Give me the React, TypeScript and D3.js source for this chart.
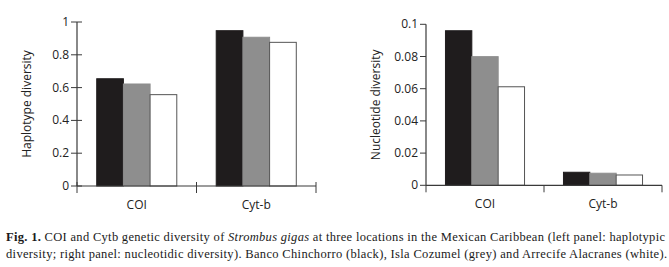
import * as d3 from 'd3'

const genes = ['COI', 'Cyt-b']
const sites = ['Banco Chinchorro', 'Isla Cozumel', 'Arrecife Alacranes']
const siteFill = ['#1f1c1d', '#8e8e8e', '#ffffff']

// haplotype diversity, one row per gene, one value per site
const haplotype = [
  [0.654, 0.622, 0.557],
  [0.947, 0.907, 0.876],
]
// nucleotide diversity
const nucleotide = [
  [0.096, 0.0799, 0.0612],
  [0.0081, 0.0075, 0.0064],
]

const hapTicks = [0, 0.2, 0.4, 0.6, 0.8, 1]
const nucTicks = [0, 0.02, 0.04, 0.06, 0.08, 0.1]

const axisFont = '"Open Sans", sans-serif'
const axisColor = '#3a3a3a'

type PanelProps = {
  values: number[][]
  ticks: number[]
  max: number
  label: string
  x0: number
  x1: number
  y0: number
  y1: number
  labelX: number
  tickFormat: (v: number) => string
  crossTicks: boolean
}

function Panel({ values, ticks, max, label, x0, x1, y0, y1, labelX, tickFormat, crossTicks }: PanelProps) {
  const x = d3.scaleBand<string>().domain(genes).range([x0, x1]).paddingInner(0.33).paddingOuter(0.165)
  const xs = d3.scaleBand<string>().domain(sites).range([0, x.bandwidth()])
  const y = d3.scaleLinear().domain([0, max]).range([y0, y1])
  const tickIn = crossTicks ? 5 : 0
  const edges = [x0, x0 + x.step(), x1]

  return (
    <g>
      {genes.map((g, gi) => (
        <g key={g} transform={`translate(${x(g)},0)`}>
          {sites.map((s, si) => {
            const v = values[gi][si]
            return (
              <rect
                key={s}
                x={xs(s)}
                y={y(v)}
                width={xs.bandwidth()}
                height={y(0) - y(v)}
                fill={siteFill[si]}
                stroke={si === 2 ? '#555' : siteFill[si]}
                strokeWidth={1}
              />
            )
          })}
          <text
            x={x.bandwidth() / 2}
            y={y0 + 23}
            textAnchor="middle"
            fontFamily={axisFont}
            fontSize={12}
            fill="#222"
          >
            {g}
          </text>
        </g>
      ))}

      <line x1={x0} x2={x0} y1={y(max)} y2={y0} stroke={axisColor} strokeWidth={1.2} />
      <line x1={x0} x2={x1} y1={y0} y2={y0} stroke={axisColor} strokeWidth={1.2} />
      {ticks.map((t) => (
        <g key={t} transform={`translate(0,${y(t)})`}>
          <line x1={x0 - 6} x2={x0 + tickIn} stroke={axisColor} strokeWidth={1} />
          <text
            x={x0 - 8}
            y={4}
            textAnchor="end"
            fontFamily={axisFont}
            fontSize={12}
            fill="#222"
          >
            {tickFormat(t)}
          </text>
        </g>
      ))}
      {edges.map((e, i) => (
        <line
          key={i}
          x1={e}
          x2={e}
          y1={y0 - (crossTicks ? 4 : 0)}
          y2={y0 + 7}
          stroke={axisColor}
          strokeWidth={1}
        />
      ))}
      <text
        transform={`translate(${labelX},${(y(max) + y0) / 2}) rotate(-90)`}
        textAnchor="middle"
        fontFamily={axisFont}
        fontSize={12}
        fill="#222"
      >
        {label}
      </text>
    </g>
  )
}

export default function App() {
  const fmt = d3.format('')
  return (
    <svg
      width={669}
      height={267}
      style={{ position: 'absolute', left: 0, top: 0, background: '#fff' }}
    >
      <Panel
        values={haplotype}
        ticks={hapTicks}
        max={1}
        label="Haplotype diversity"
        x0={77}
        x1={316}
        y0={186}
        y1={22}
        labelX={31}
        tickFormat={(v) => fmt(v)}
        crossTicks
      />
      <Panel
        values={nucleotide}
        ticks={nucTicks}
        max={0.1}
        label="Nucleotide diversity"
        x0={426}
        x1={662}
        y0={185.3}
        y1={24.3}
        labelX={380}
        tickFormat={(v) => fmt(v)}
        crossTicks={false}
      />

      <g fontFamily='"Liberation Serif", "Times New Roman", serif' fontSize={12.5} fill="#1a1a1a">
        <text x={6} y={241} textLength={659} lengthAdjust="spacing">
          <tspan fontWeight="bold">Fig. 1.</tspan> COI and Cytb genetic diversity of{' '}
          <tspan fontStyle="italic">Strombus gigas</tspan> at three locations in the Mexican Caribbean (left
          panel: haplotypic
        </text>
        <text x={6} y={258} textLength={661} lengthAdjust="spacing">
          diversity; right panel: nucleotidic diversity). Banco Chinchorro (black), Isla Cozumel (grey) and
          Arrecife Alacranes (white).
        </text>
      </g>
    </svg>
  )
}
